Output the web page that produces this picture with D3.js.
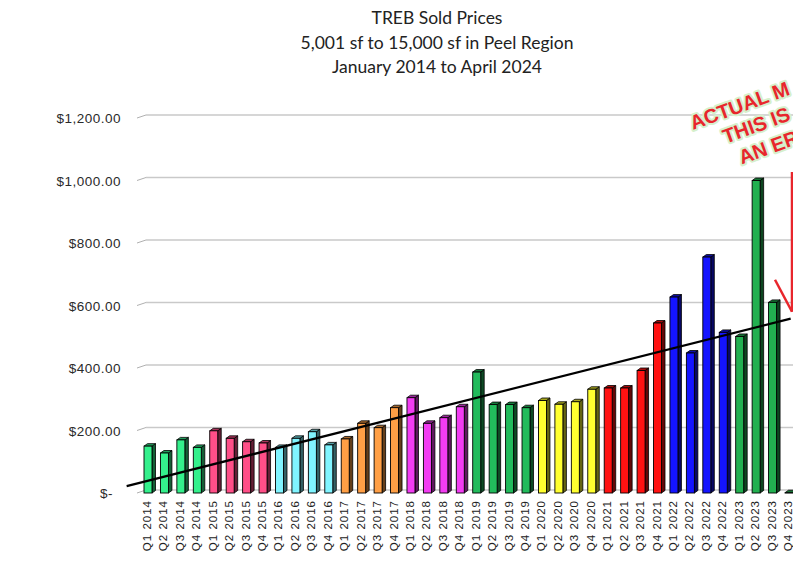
<!DOCTYPE html>
<html>
<head>
<meta charset="utf-8">
<script src="https://cdn.jsdelivr.net/npm/d3@7"></script>
<style>
  body { margin: 0; background: #fff; }
  svg { display: block; }
</style>
</head>
<body>
<svg width="793" height="561"></svg>
<script>
// Quarters, Q1 2014 .. Q4 2023
const years = [2014, 2015, 2016, 2017, 2018, 2019, 2020, 2021, 2022, 2023];
const quarters = [];
years.forEach(y => ["Q1", "Q2", "Q3", "Q4"].forEach(q => quarters.push(q + " " + y)));

// sold price per sf
const prices = [
  150, 128, 170, 146,
  199, 175, 164, 160,
  146, 175, 196, 154,
  173, 223, 209, 273,
  305, 223, 241, 276,
  387, 283, 283, 273,
  296, 284, 292, 332,
  336, 336, 392, 544,
  627, 448, 755, 514,
  501, 1000, 610, 1
];

// one colour per year
const yearColors = ["#34f08c", "#ff4f88", "#80f4ff", "#ff9f45", "#f23cf2",
                    "#22bb5c", "#ffff30", "#ff1212", "#1414ff", "#22b050"];

const yTicks = [0, 200, 400, 600, 800, 1000, 1200];

// trend line ends: [category position, value]
const trendPts = [[-1.3, 22], [39.1, 558]];

const titleLines = ["TREB Sold Prices", "5,001 sf to 15,000 sf in Peel Region", "January 2014 to April 2024"];
const noteLines = ["ACTUAL M", "THIS IS", "AN ER"];

const svg = d3.select("svg");

const x = d3.scalePoint().domain(quarters).range([148, 789]);
const step = x.step();
const xi = i => x(quarters[0]) + i * step;
const y = d3.scaleLinear().domain([0, 1200]).range([493, 118]);

// title
svg.append("g").selectAll("text")
  .data(titleLines)
  .enter()
  .append("text")
  .attr("x", 437)
  .attr("y", (d, i) => 24 + i * 24.5)
  .attr("text-anchor", "middle")
  .style("font-family", "Lato, 'Liberation Sans', sans-serif")
  .style("font-size", "17.5px")
  .style("fill", "#222")
  .text(d => d);

// gridlines (back wall, with little perspective kink)
const grid = svg.append("g");
yTicks.forEach(v => {
  grid.append("line")
    .attr("x1", 146).attr("y1", y(v) - 3)
    .attr("x2", 793).attr("y2", y(v) - 3)
    .style("stroke", "#c9c9c9").style("stroke-width", 1.4);
  grid.append("line")
    .attr("x1", 137).attr("y1", y(v))
    .attr("x2", 146).attr("y2", y(v) - 3)
    .style("stroke", "#b0b0b0").style("stroke-width", 1);
});

// y labels
svg.append("g").selectAll("text")
  .data(yTicks)
  .enter()
  .append("text")
  .attr("x", d => d === 0 ? 113 : 121)
  .attr("y", d => y(d) + 5)
  .attr("text-anchor", "end")
  .style("font-family", "'Liberation Sans', Arial, sans-serif")
  .style("font-size", "13.5px")
  .style("letter-spacing", "0.5px")
  .style("fill", "#2a2a2a")
  .text(d => d === 0 ? "$-" : d3.format("$,.2f")(d));

// 3d-ish bars
const fw = 8, dx = 3.5, dy = 2.5;
const bars = svg.append("g").selectAll("g")
  .data(prices)
  .enter()
  .append("g");

bars.append("path")   // side face
  .attr("d", (d, i) => {
    const x0 = xi(i) - 4 + fw, yt = y(d), yb = y(0);
    return `M${x0},${yt}L${x0 + dx},${yt - dy}L${x0 + dx},${yb - dy}L${x0},${yb}Z`;
  })
  .style("fill", (d, i) => d3.color(yearColors[Math.floor(i / 4)]).darker(2.6))
  .style("stroke", "#000").style("stroke-width", 0.8);

bars.append("path")   // top face
  .attr("d", (d, i) => {
    const x0 = xi(i) - 4, yt = y(d);
    return `M${x0},${yt}L${x0 + dx},${yt - dy}L${x0 + fw + dx},${yt - dy}L${x0 + fw},${yt}Z`;
  })
  .style("fill", (d, i) => d3.color(yearColors[Math.floor(i / 4)]).darker(1.2))
  .style("stroke", "#000").style("stroke-width", 0.8);

bars.append("rect")   // front face
  .attr("x", (d, i) => xi(i) - 4)
  .attr("y", d => y(d))
  .attr("width", fw)
  .attr("height", d => y(0) - y(d))
  .style("fill", (d, i) => yearColors[Math.floor(i / 4)])
  .style("stroke", "#000").style("stroke-width", 0.9);

// trend line
svg.append("line")
  .attr("x1", xi(trendPts[0][0])).attr("y1", y(trendPts[0][1]))
  .attr("x2", xi(trendPts[1][0])).attr("y2", y(trendPts[1][1]))
  .style("stroke", "#000").style("stroke-width", 2.2);

// x labels
svg.append("g").selectAll("text")
  .data(quarters)
  .enter()
  .append("text")
  .attr("transform", d => `translate(${x(d) + 3},500) rotate(-90)`)
  .attr("text-anchor", "end")
  .style("font-family", "'Liberation Sans', Arial, sans-serif")
  .style("font-size", "11.5px")
  .style("letter-spacing", "1px")
  .style("fill", "#222")
  .text(d => d);

// red note + arrow
const note = svg.append("g").attr("transform", "translate(693,130) rotate(-20)");
note.selectAll("text")
  .data(noteLines)
  .enter()
  .append("text")
  .attr("x", (d, i) => [0, 26, 34][i])
  .attr("y", (d, i) => [0, 24, 49][i])
  .style("font-family", "'Liberation Sans', Arial, sans-serif")
  .style("font-weight", "bold")
  .style("font-size", "20px")
  .style("fill", "#e8262c")
  .style("stroke", "#d6f0cc")
  .style("stroke-width", 4)
  .style("paint-order", "stroke")
  .style("stroke-linejoin", "round")
  .text(d => d);

const ax = xi(39) + 3, tip = y(580);
svg.append("line")
  .attr("x1", ax).attr("y1", 172).attr("x2", ax).attr("y2", tip)
  .style("stroke", "#e8262c").style("stroke-width", 2.5);
svg.append("line")
  .attr("x1", ax - 17).attr("y1", tip - 32).attr("x2", ax).attr("y2", tip)
  .style("stroke", "#e8262c").style("stroke-width", 2.5);
</script>
</body>
</html>
